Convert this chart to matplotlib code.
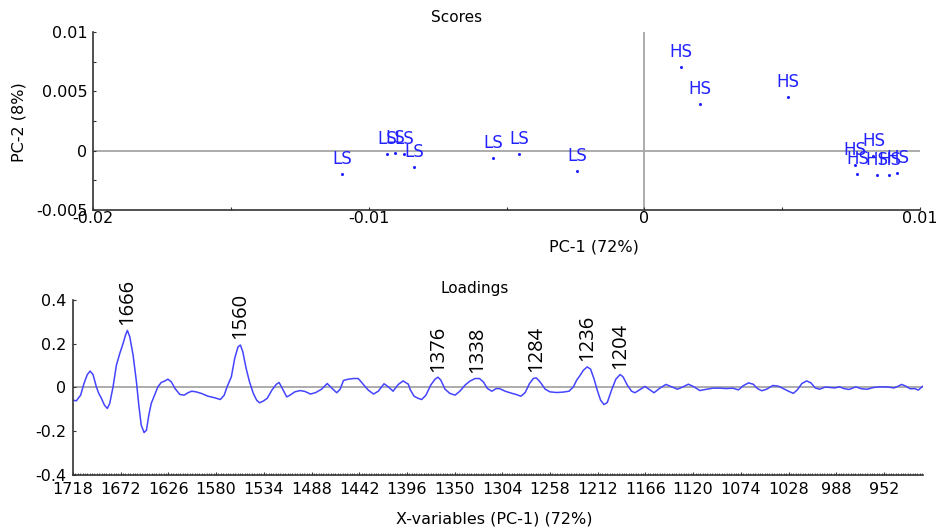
import matplotlib

matplotlib.use("Agg")
import matplotlib.pyplot as plt
from matplotlib.ticker import FixedLocator, MultipleLocator

plt.rcParams["font.family"] = ["DejaVu Sans"]

# scores (PC-1, PC-2)
LS_X = [-0.01096, -0.00932, -0.00903, -0.00871, -0.00834, -0.00548, -0.00453, -0.00243]
LS_Y = [-0.00194, -0.00025, -0.00017, -0.00025, -0.00135, -0.00059, -0.00025, -0.00169]
HS_X = [0.00134, 0.00200, 0.00522, 0.00831, 0.00765, 0.00773, 0.00845, 0.00889, 0.00918]
HS_Y = [0.00708, 0.00396, 0.00455, -0.00042, -0.00118, -0.00194, -0.00202, -0.00202, -0.00185]

# loadings, x in variable-tick units (0 = 1718 ... 17 = 952)
LOAD_X = [
    0.00, 0.07, 0.16, 0.23, 0.30, 0.36, 0.42, 0.49, 0.54, 0.59, 0.66, 0.72, 0.77, 0.84,
    0.91, 0.98, 1.05, 1.10, 1.14, 1.19, 1.26, 1.33, 1.38, 1.43, 1.49, 1.54, 1.59, 1.64,
    1.71, 1.78, 1.85, 1.92, 1.99, 2.06, 2.14, 2.24, 2.33, 2.41, 2.49, 2.58, 2.69, 2.83,
    2.97, 3.09, 3.17, 3.23, 3.32, 3.39, 3.46, 3.51, 3.56, 3.63, 3.70, 3.78, 3.85, 3.91,
    3.99, 4.07, 4.17, 4.26, 4.32, 4.39, 4.48, 4.55, 4.65, 4.76, 4.86, 4.98, 5.09, 5.21,
    5.33, 5.42, 5.53, 5.60, 5.67, 5.77, 5.88, 5.98, 6.07, 6.19, 6.30, 6.40, 6.52, 6.61,
    6.71, 6.82, 6.92, 7.03, 7.07, 7.15, 7.24, 7.31, 7.40, 7.50, 7.59, 7.65, 7.71, 7.80,
    7.90, 8.01, 8.11, 8.22, 8.32, 8.43, 8.52, 8.60, 8.69, 8.78, 8.87, 8.94, 9.06, 9.16,
    9.29, 9.39, 9.48, 9.57, 9.65, 9.71, 9.79, 9.90, 10.00, 10.14, 10.28, 10.40, 10.49,
    10.56, 10.63, 10.70, 10.78, 10.85, 10.92, 10.99, 11.06, 11.13, 11.20, 11.29, 11.38,
    11.47, 11.53, 11.62, 11.71, 11.78, 11.87, 11.99, 12.10, 12.18, 12.29, 12.43, 12.55,
    12.67, 12.79, 12.90, 13.02, 13.14, 13.28, 13.42, 13.56, 13.70, 13.83, 13.95, 14.05,
    14.16, 14.26, 14.35, 14.44, 14.54, 14.67, 14.79, 14.89, 15.00, 15.10, 15.18, 15.28,
    15.38, 15.47, 15.56, 15.65, 15.77, 15.87, 15.97, 16.07, 16.16, 16.27, 16.41, 16.53,
    16.65, 16.78, 16.92, 17.09, 17.21, 17.30, 17.37, 17.46, 17.55, 17.65, 17.72, 17.81,
]
LOAD_Y = [
    -0.058, -0.061, -0.035, 0.018, 0.059, 0.075, 0.059, 0.003, -0.027, -0.047, -0.081,
    -0.096, -0.073, 0.003, 0.102, 0.155, 0.201, 0.239, 0.261, 0.232, 0.148, 0.026,
    -0.081, -0.172, -0.206, -0.195, -0.126, -0.073, -0.035, 0.003, 0.023, 0.029, 0.038,
    0.026, -0.005, -0.032, -0.035, -0.024, -0.017, -0.020, -0.027, -0.040, -0.047,
    -0.055, -0.035, 0.003, 0.049, 0.133, 0.186, 0.194, 0.163, 0.087, 0.026, -0.027,
    -0.058, -0.070, -0.062, -0.050, -0.012, 0.014, 0.023, -0.005, -0.043, -0.035, -0.020,
    -0.014, -0.018, -0.030, -0.023, -0.008, 0.018, -0.002, -0.024, -0.008, 0.032, 0.038,
    0.041, 0.041, 0.018, -0.012, -0.030, -0.017, 0.017, 0.003, -0.017, 0.014, 0.030,
    0.015, -0.010, -0.040, -0.050, -0.055, -0.035, 0.011, 0.038, 0.047, 0.034, -0.008,
    -0.027, -0.035, -0.017, 0.011, 0.029, 0.041, 0.041, 0.026, -0.005, -0.017, -0.005,
    -0.005, -0.017, -0.024, -0.032, -0.040, -0.023, 0.018, 0.041, 0.044, 0.026, -0.008,
    -0.020, -0.023, -0.021, -0.017, 0.003, 0.034, 0.055, 0.079, 0.094, 0.084, 0.041,
    -0.012, -0.058, -0.078, -0.069, -0.012, 0.038, 0.059, 0.049, 0.011, -0.017, -0.024,
    -0.012, 0.005, -0.012, -0.024, -0.005, 0.014, 0.003, -0.008, 0.003, 0.015, 0.003,
    -0.014, -0.008, -0.003, -0.003, -0.005, -0.003, -0.011, 0.008, 0.021, 0.015, -0.005,
    -0.015, -0.008, 0.009, 0.006, -0.005, -0.017, -0.027, -0.012, 0.018, 0.030, 0.021,
    -0.002, -0.008, 0.002, 0.000, -0.002, 0.003, -0.005, -0.009, 0.003, -0.006, -0.008,
    0.000, 0.003, 0.002, -0.002, 0.006, 0.014, 0.006, -0.006, -0.005, -0.012, 0.005,
]
TICK_LABELS = ["1718", "1672", "1626", "1580", "1534", "1488", "1442", "1396", "1350",
               "1304", "1258", "1212", "1166", "1120", "1074", "1028", "988", "952"]

PEAK_LABELS = ["1666", "1560", "1376", "1338", "1284", "1236", "1204"]
PEAK_X = [1.14, 3.51, 7.66, 8.47, 9.71, 10.78, 11.47]
PEAK_Y = [0.261, 0.194, 0.047, 0.041, 0.044, 0.094, 0.059]

BLUE = "#2222ff"
LINE_BLUE = "#4444ff"
GREY = "#a6a6a6"
SPINE = "#333333"

fig = plt.figure(figsize=(9.37, 5.30), dpi=100)


def style_axes(ax):
    for side in ["top", "right"]:
        ax.spines[side].set_visible(False)
    for side in ["left", "bottom"]:
        ax.spines[side].set_color(SPINE)
        ax.spines[side].set_linewidth(1.2)
    ax.tick_params(which="both", direction="in", length=2, width=0.8, color=SPINE,
                   labelsize=11.5)


# --- scores ---
ax1 = fig.add_axes([0.0993, 0.6038, 0.8826, 0.3358])
style_axes(ax1)
ax1.axhline(0, color=GREY, lw=1.3, zorder=1)
ax1.axvline(0, color=GREY, lw=1.3, zorder=1)
ax1.scatter(LS_X, LS_Y, s=5, color=BLUE, zorder=3, linewidths=0)
ax1.scatter(HS_X, HS_Y, s=5, color=BLUE, zorder=3, linewidths=0)
for x, y in zip(LS_X, LS_Y):
    ax1.annotate("LS", (x, y), xytext=(0, 7), textcoords="offset points",
                 ha="center", va="baseline", color=BLUE, fontsize=12)
for x, y in zip(HS_X, HS_Y):
    ax1.annotate("HS", (x, y), xytext=(0, 7), textcoords="offset points",
                 ha="center", va="baseline", color=BLUE, fontsize=12)
ax1.set_xlim(-0.02, 0.01)
ax1.set_ylim(-0.005, 0.01)
ax1.set_xticks([-0.02, -0.01, 0, 0.01], ["-0.02", "-0.01", "0", "0.01"])
ax1.set_yticks([-0.005, 0, 0.005, 0.01], ["-0.005", "0", "0.005", "0.01"])
ax1.xaxis.set_minor_locator(MultipleLocator(0.005))
ax1.yaxis.set_minor_locator(MultipleLocator(0.0025))
ax1.tick_params(axis="x", pad=1)
ax1.tick_params(axis="y", pad=4)
ax1.set_title("Scores", fontsize=11, x=0.44, pad=7)
ax1.set_xlabel("PC-1 (72%)", fontsize=11.5)
ax1.xaxis.set_label_coords(0.606, -0.165)
ax1.set_ylabel("PC-2 (8%)", fontsize=11.5)
ax1.yaxis.set_label_coords(-0.08, 0.494)

# --- loadings ---
ax2 = fig.add_axes([0.0779, 0.1038, 0.9072, 0.3302])
style_axes(ax2)
ax2.axhline(0, color=GREY, lw=1.3, zorder=1)
ax2.plot(LOAD_X, LOAD_Y, color=LINE_BLUE, lw=1.1, zorder=2)
for lab, x, y in zip(PEAK_LABELS, PEAK_X, PEAK_Y):
    ax2.annotate(lab, (x, y), xytext=(0, 4), textcoords="offset points",
                 rotation=90, ha="center", va="bottom", fontsize=14.5,
                 family=["Open Sans", "DejaVu Sans"], color="black")
ax2.set_xlim(0, 17.82)
ax2.set_ylim(-0.4, 0.4)
ax2.xaxis.set_major_locator(FixedLocator(range(len(TICK_LABELS))))
ax2.set_xticklabels(TICK_LABELS)
ax2.xaxis.set_minor_locator(MultipleLocator(0.05))
ax2.tick_params(axis="x", which="minor", length=1.5, width=0.6)
ax2.set_yticks([-0.4, -0.2, 0, 0.2, 0.4], ["-0.4", "-0.2", "0", "0.2", "0.4"])
ax2.tick_params(axis="x", pad=5)
ax2.tick_params(axis="y", pad=5)
ax2.set_title("Loadings", fontsize=11, x=0.472, pad=5)
ax2.set_xlabel("X-variables (PC-1) (72%)", fontsize=11.5)
ax2.xaxis.set_label_coords(0.495, -0.21)

fig.savefig("out.png", dpi=100)
